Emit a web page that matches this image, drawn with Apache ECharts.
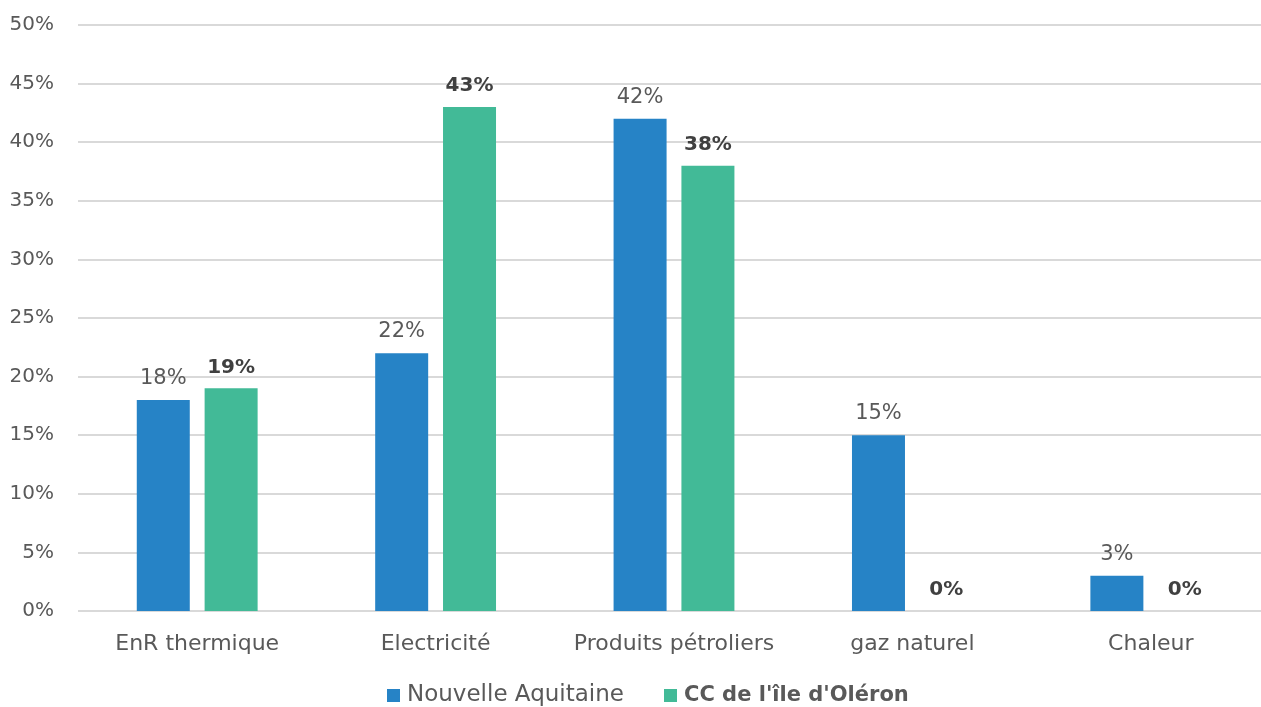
<!DOCTYPE html>
<html>
<head>
<meta charset="utf-8">
<script src="https://cdn.jsdelivr.net/npm/echarts@6/dist/echarts.min.js"></script>
<style>
  html, body { margin: 0; padding: 0; background: #fff; }
  #chart { width: 1261px; height: 707px; }
</style>
</head>
<body>
<div id="chart"></div>
<script>
// catégories et valeurs (en %)
const categories = ['EnR thermique', 'Electricité', 'Produits pétroliers', 'gaz naturel', 'Chaleur']
const nouvelleAquitaine = [18, 22, 42, 15, 3]
const oleron = [19, 43, 38, 0, 0]
const seriesNames = ['Nouvelle Aquitaine', "CC de l'île d'Oléron"]

const font = 'DejaVu Sans'
const textColor = '#595959'

const chart = echarts.init(document.getElementById('chart'))
const option = {
  animation: false,
  color: ['#2683C6', '#42BA97'],
  textStyle: { fontFamily: font },
  grid: { left: 78, width: 1192, top: 25, bottom: 96, outerBoundsMode: 'none', containLabel: false },
  legend: {
    bottom: -5,
    left: 382,
    itemWidth: 13,
    itemHeight: 13,
    itemGap: 40,
    icon: 'rect',
    textStyle: { fontFamily: font, fontSize: 23, color: textColor, padding: [0, 0, 0, 2] },
    data: [
      { name: seriesNames[0] },
      { name: seriesNames[1], textStyle: { fontWeight: 'bold', fontSize: 21 } }
    ]
  },
  xAxis: {
    type: 'category',
    data: categories,
    axisLine: { show: false },
    axisTick: { show: false },
    axisLabel: { interval: 0, fontSize: 22, color: textColor, margin: 22, fontFamily: font }
  },
  yAxis: {
    type: 'value',
    min: 0,
    max: 50,
    interval: 5,
    axisLine: { show: false },
    axisTick: { show: false },
    splitLine: { lineStyle: { color: '#D9D9D9', width: 2 } },
    axisLabel: { formatter: '{value}%', fontSize: 20, color: textColor, margin: 24, fontFamily: font }
  },
  series: [
    {
      name: seriesNames[0],
      type: 'bar',
      barWidth: 53,
      barGap: '28%',
      data: nouvelleAquitaine,
      label: {
        show: true,
        position: 'top',
        distance: 11,
        formatter: '{c}%',
        fontSize: 21,
        color: textColor,
        fontFamily: font
      }
    },
    {
      name: seriesNames[1],
      type: 'bar',
      barWidth: 53,
      data: oleron,
      label: {
        show: true,
        position: 'top',
        distance: 11,
        formatter: '{c}%',
        fontSize: 20,
        fontWeight: 'bold',
        color: '#404040',
        fontFamily: font
      }
    }
  ]
}
chart.setOption(option)
</script>
</body>
</html>
